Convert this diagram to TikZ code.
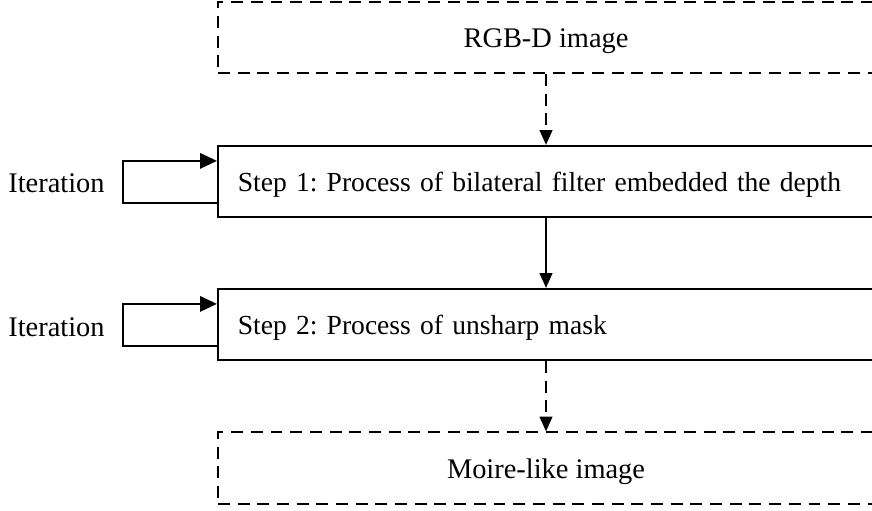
\documentclass[tikz,border=0pt]{standalone}
\usepackage{fontspec}
\setmainfont{Liberation Serif}
\usetikzlibrary{arrows.meta, positioning, calc}
\frenchspacing

\begin{document}
\begin{tikzpicture}[
    x=0.025cm, y=-0.025cm,
    >={Triangle[length=10.5pt, width=9pt]},
    line width=1.4pt,
    every node/.style={font=\fontsize{20.2}{24}\selectfont,
      text height=19.3pt, text depth=4.5pt},
    databox/.style={draw, dashed, dash pattern=on 8.5pt off 5.5pt,
      minimum width=16.4cm, minimum height=1.78cm, inner sep=0pt},
    stepbox/.style={draw, font=\fontsize{19.6}{24}\selectfont,
      minimum height=1.78cm, text width=16cm, align=left,
      inner xsep=0.5cm, inner ysep=0pt},
    loop/.style={line width=1.2pt, -{Triangle[length=12pt, width=11pt]}},
  ]

  \useasboundingbox (0,0) rectangle (872,511);
  \clip (0,0) rectangle (872,511);

  % === Boxes ===
  \node[databox] (rgbd) at (546,37.5) {RGB-D image};
  \node[stepbox] (step1) at (558,181.5)
    {Step 1: Process of bilateral filter embedded the depth};
  \node[stepbox] (step2) at (558,324.5)
    {Step 2: Process of unsharp mask};
  \node[databox] (moire) at (546,468) {Moire-like image};

  % === Iteration labels ===
  \node (iter1) at (56.5,182.5) {Iteration};
  \node (iter2) at (56.5,326.5) {Iteration};

  % === Flow between boxes ===
  \draw[->, dashed, dash pattern=on 8.5pt off 5.5pt]
    (rgbd.south) -- (rgbd.south |- step1.north);
  \draw[->] (rgbd.south |- step1.south) -- (rgbd.south |- step2.north);
  \draw[->, dashed, dash pattern=on 8.5pt off 5.5pt]
    (rgbd.south |- step2.south) -- (moire.north);

  % === Iteration loops ===
  \draw[loop] ([yshift=0.375cm]step1.south west) -- ++(-94,0)
    |- ([yshift=-0.4cm]step1.north west);
  \draw[loop] ([yshift=0.375cm]step2.south west) -- ++(-94,0)
    |- ([yshift=-0.4cm]step2.north west);

\end{tikzpicture}
\end{document}
